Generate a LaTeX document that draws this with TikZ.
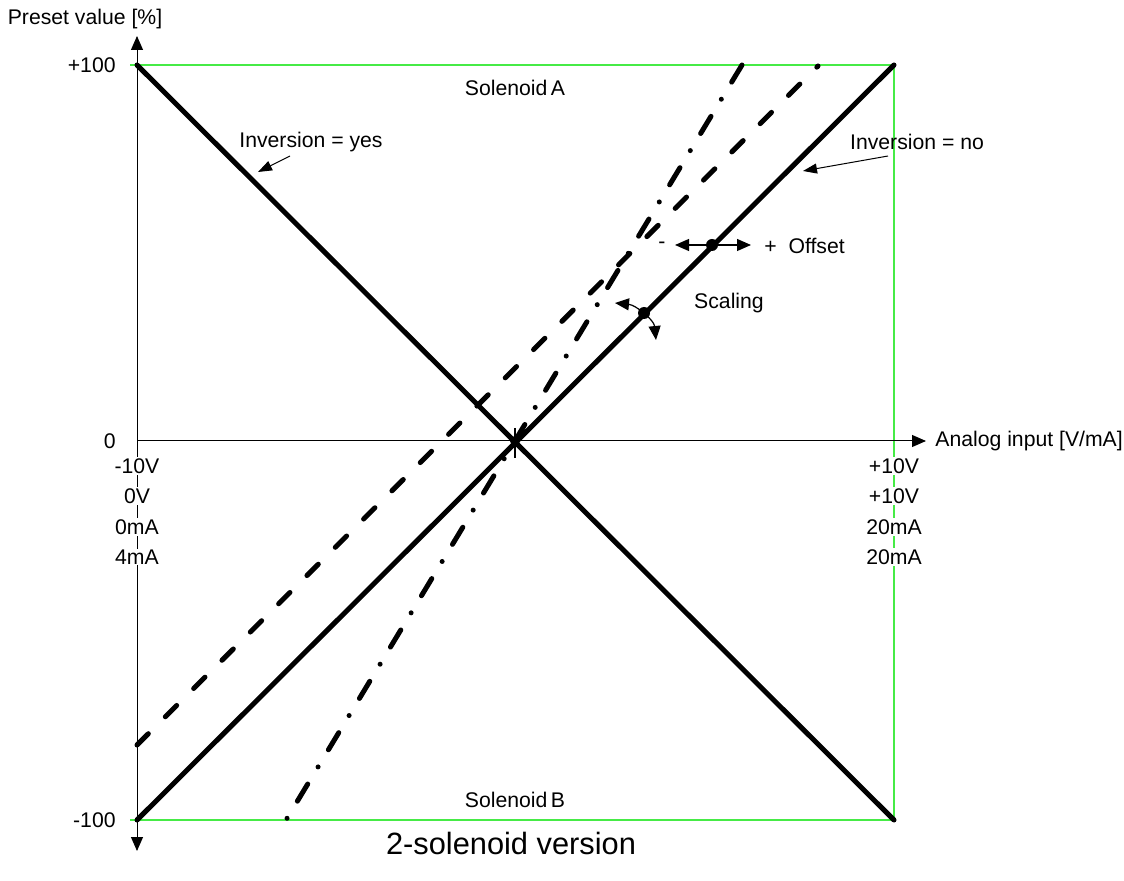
\documentclass[tikz,border=0pt]{standalone}
\usepackage{fontspec}
\setmainfont{Liberation Sans}
\usetikzlibrary{arrows.meta}
\definecolor{frameg}{RGB}{70,235,70}
\tikzset{
  lbl/.style={font=\fontsize{10.6pt}{12pt}\selectfont, inner sep=1pt},
  tick/.style={lbl, fill=white, inner sep=0.5pt},
  axisline/.style={line width=0.5pt, -{Triangle[length=7pt,width=6pt]}},
  frame/.style={draw=frameg, line width=0.6pt},
  thick line/.style={line width=2.5pt, line cap=round},
  dashline/.style={thick line, dash pattern=on 8pt off 12pt},
  dashdotline/.style={thick line, dash pattern=on 10pt off 10pt on 0pt off 10pt},
  callout/.style={line width=0.5pt, -{Triangle[length=7pt,width=5pt]}},
  adj/.style={line width=0.6pt, -{Triangle[length=7pt,width=6pt]}},
}
\begin{document}
\begin{tikzpicture}[x=0.5pt,y=-0.5pt]
\useasboundingbox (0,0) rectangle (1124,881);
% key coordinates
\coordinate (TL) at (137,65);
\coordinate (BL) at (137,820);
\coordinate (TR) at (894,65);
\coordinate (BR) at (894,820);
\coordinate (O) at (515,441);
% green frame
\draw[frame] (130,65) -- (TR) -- (BR) -- (130,820);
% axes
\coordinate (ytop) at (137,36);
\coordinate (ybot) at (137,851);
\coordinate (xend) at (926,441);
\draw[axisline] (BL) -- (ytop);
\draw[axisline] (TL) -- (ybot);
\draw[line width=0.5pt] (137,441) -- (O);
\draw[axisline] (O) -- (xend);
\draw[line width=0.6pt] (515,428) -- (515,458);
% characteristic lines
\draw[thick line] (TL) -- (BR);
\draw[thick line] (BL) -- (TR);
\draw[dashline] (137,745) -- (818,66);
\draw[dashdotline] (742,65) -- (286,820);
\fill (O) circle (5);
% axis labels
\node[lbl, anchor=south] (ylab) at (85,31) {Preset value [\%]};
\node[lbl, anchor=east] (p100) at (118,65) {+100};
\node[lbl, anchor=east] (zero) at (118,441) {0};
\node[lbl, anchor=east] (m100) at (118,820) {-100};
\node[lbl, anchor=west] (xlab) at (933,441) {Analog input [V/mA]};
\node[tick] (l1) at (137,466) {-10V};
\node[tick] (l2) at (137,496) {0V};
\node[tick] (l3) at (137,527) {0mA};
\node[tick] (l4) at (137,557) {4mA};
\node[tick] (r1) at (894,466) {+10V};
\node[tick] (r2) at (894,496) {+10V};
\node[tick] (r3) at (894,527) {20mA};
\node[tick] (r4) at (894,557) {20mA};
% region labels
\node[lbl] (solA) at (515,88) {Solenoid\,A};
\node[lbl] (solB) at (515,800) {Solenoid\,B};
\node[font=\fontsize{15.4pt}{18pt}\selectfont, inner sep=1pt] (title) at (511,843) {2-solenoid version};
% inversion callouts
\node[lbl] (invyes) at (311,142) {Inversion = yes};
\coordinate (invyesT) at (258,172);
\draw[callout] (290,156) -- (invyesT);
\node[lbl] (invno) at (917,142) {Inversion = no};
\coordinate (invnoT) at (803,171);
\draw[callout] (888,156) -- (invnoT);
% offset
\coordinate (offdot) at (712,245);
\coordinate (offL) at (675,245);
\coordinate (offR) at (751,245);
\draw[adj] (offdot) -- (offL);
\draw[adj] (offdot) -- (offR);
\fill (offdot) circle (6);
\node[lbl] (minus) at (662,245) {-};
\node[lbl, anchor=west] (offset) at (762,246) {+\ \ Offset};
% scaling
\coordinate (scdot) at (644,313);
\coordinate (scA) at (615,303);
\coordinate (scB) at (656,340);
\draw[line width=0.6pt, {Triangle[length=7pt,width=6pt]}-{Triangle[length=7pt,width=6pt]}] (scA) .. controls (636,305) and (654,320) .. (scB);
\fill (scdot) circle (6);
\node[lbl] (scaling) at (729,303) {Scaling};
\end{tikzpicture}
\end{document}
